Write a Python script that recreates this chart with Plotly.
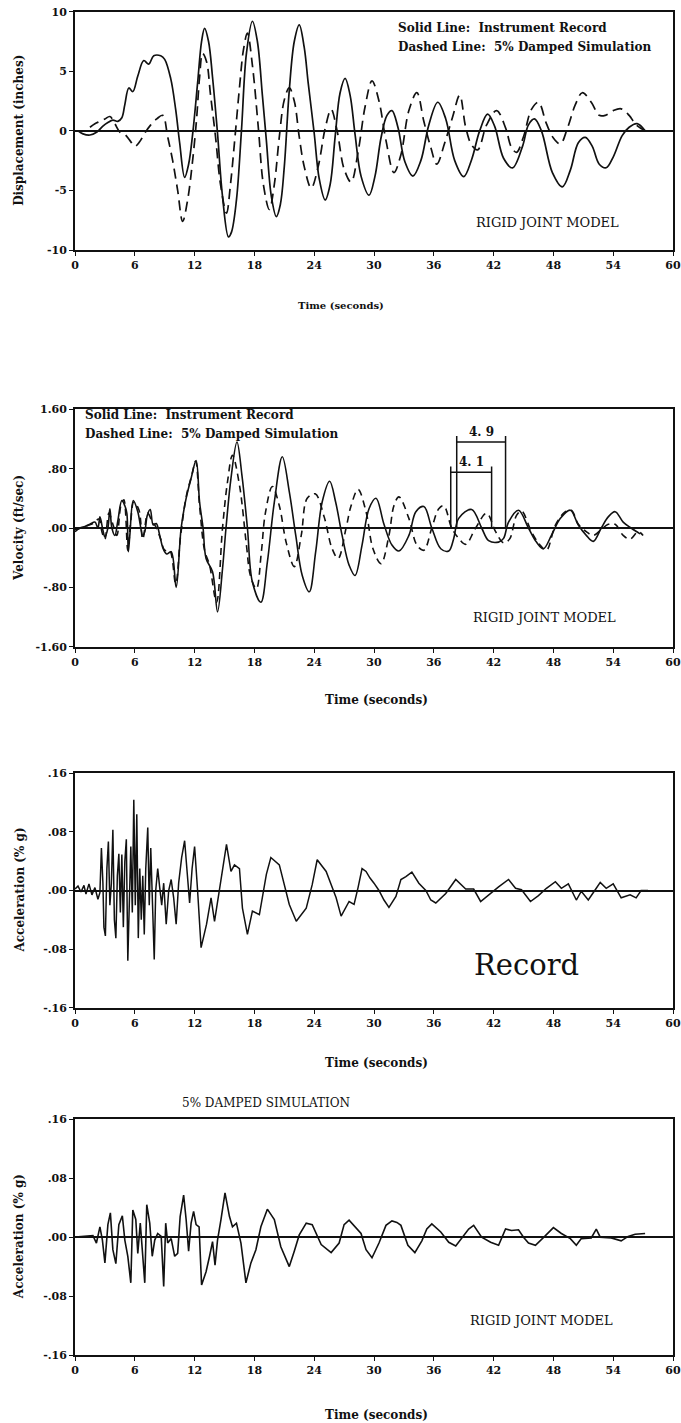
import plotly.graph_objects as go

# ---------------- data ----------------
time_ticks = [0, 6, 12, 18, 24, 30, 36, 42, 48, 54, 60]

disp_rec_t = [0.3, 0.8, 1.5, 2.2, 2.8, 3.3, 3.8, 4.3, 4.7, 5.0, 5.4, 5.8, 6.3, 6.9, 7.4, 7.9, 8.6, 9.0, 9.6, 10.1,
              10.5, 11.0, 11.4, 11.8, 12.3, 12.7, 13.0, 13.4, 13.8, 14.3, 14.8, 15.4, 15.7, 16.2, 16.7, 17.2, 17.8,
              18.3, 18.8, 19.2, 19.7, 20.2, 20.6, 21.0, 21.5, 22.0, 22.5, 23.0, 23.4, 24.0, 24.5, 25.1, 25.6, 26.1,
              26.6, 27.1, 27.6, 28.1, 28.7, 29.5, 30.1, 30.7, 31.3, 31.8, 32.4, 33.1, 33.9, 34.7, 35.5, 36.4, 37.2,
              38.1, 39.0, 39.8, 40.6, 41.4, 42.1, 43.0, 43.9, 44.9, 45.5, 46.1, 46.8, 47.9, 48.9, 49.7, 50.5, 51.2,
              51.9, 52.6, 53.3, 54.0, 54.9, 55.6, 56.4, 57.2]
disp_rec = [0.0, -0.25, -0.35, -0.1, 0.4, 0.7, 0.9, 0.8, 1.1, 2.2, 3.6, 3.3, 4.6, 5.9, 5.6, 6.3, 6.3, 6.0, 4.4, 1.8,
            -1.0, -3.9, -2.8, -0.3, 4.0, 7.5, 8.6, 7.5, 4.5, -0.2, -5.5, -8.9, -8.5, -5.8, 0.0, 6.5, 9.2,
            7.5, 3.0, -0.8, -5.5, -7.2, -6.2, -3.0, 3.4, 7.5, 8.9, 7.0, 4.0, -0.2, -4.0, -5.8, -4.5, -0.5,
            3.2, 4.4, 3.0, -0.3, -3.8, -5.4, -3.8, -0.6, 1.3, 1.7, 0.3, -2.6, -3.8, -2.5, 0.5, 2.4, 1.0,
            -2.5, -3.85, -2.4, 0.0, 1.4, 0.4, -2.3, -3.1, -1.3, 0.5, 1.0, 0.0, -3.5, -4.7, -3.3, -1.0, -0.55,
            -1.3, -2.8, -3.1, -2.2, -0.4, 0.3, 0.6, 0.0]

disp_sim_t = [1.5, 2.0, 2.5, 3.0, 3.5, 4.0, 4.5, 5.0, 5.5, 6.0, 6.5, 7.0, 7.6, 8.2, 8.8, 9.3, 9.8, 10.3, 10.8, 11.3,
              11.8, 12.2, 12.5, 12.8, 13.2, 13.6, 14.1, 14.6, 15.2, 15.6, 16.0, 16.5, 16.9, 17.3, 17.8, 18.4, 18.9,
              19.5, 20.0, 20.5, 21.0, 21.5, 22.0, 22.5, 23.0, 23.7, 24.4, 25.1, 25.7, 26.3, 27.0, 27.7, 28.4, 29.1,
              29.8, 30.5, 31.2, 32.0, 32.7, 33.5, 34.3, 35.0, 35.7, 36.3, 37.1, 37.9, 38.6, 39.2, 39.8, 40.4, 41.3,
              42.3, 43.2, 43.8, 44.3, 45.0, 45.8, 46.5, 47.3, 48.0, 48.7, 49.4, 50.2, 50.9, 51.8, 52.6, 53.2, 54.0,
              54.8, 55.6, 56.3, 57.2]
disp_sim = [0.3, 0.6, 0.8, 1.0, 1.2, 0.6, -0.1, -0.3, -0.8, -1.3, -0.9, -0.2, 0.5, 1.0, 1.3, -0.5, -2.5, -5.0, -7.6, -5.8,
            -2.5, 1.0, 4.5, 6.5, 5.8, 3.0, -0.5, -4.5, -6.9, -4.5, -1.0, 3.6, 6.8, 8.2, 5.5, 0.2, -4.5,
            -6.6, -4.5, -0.5, 2.6, 3.6, 2.5, -0.5, -3.0, -4.8, -3.0, 0.2, 1.8, 0.0, -3.2, -4.3, -1.8, 2.0,
            4.2, 2.5, -0.8, -3.5, -2.0, 1.7, 3.2, 0.8, -1.4, -2.8, -1.0, 1.2, 3.0, 0.3, -1.2, -1.6, 0.5,
            1.7, 0.25, -1.4, -1.8, -0.5, 1.8, 2.4, 0.6, -0.6, -1.1, 0.2, 2.2, 3.2, 2.4, 1.3, 1.3, 1.7,
            1.85, 1.3, 0.5, 0.0]

vel_rec_t = [0.0, 0.5, 1.0, 1.5, 2.0, 2.3, 2.5, 2.8, 3.0, 3.3, 3.5, 3.7, 4.0, 4.3, 4.7, 5.0, 5.2, 5.35, 5.5, 5.85,
             6.3, 6.8, 7.0, 7.25, 7.55, 7.85, 8.15, 8.5, 8.85, 9.2, 9.65, 10.15, 10.65, 11.15, 11.65, 12.15, 12.5,
             12.85, 13.15, 13.8, 14.3, 14.8, 15.15, 15.65, 16.25, 16.75, 17.3, 17.8, 18.65, 19.3, 20.0, 20.8, 21.5,
             22.15, 22.8, 23.5, 24.15, 24.8, 25.55, 26.15, 26.8, 27.5, 28.1, 28.8, 29.5, 30.2, 31.0, 31.8, 32.5,
             33.5, 34.2, 35.0, 35.8, 36.7, 37.5, 38.0, 38.5, 39.8, 40.8, 41.5, 42.5, 43.0, 43.5, 44.5, 45.5, 46.3,
             47.0, 47.8, 48.7, 49.7, 50.5, 51.3, 52.0, 52.8, 53.5, 54.2, 55.0, 55.8, 56.7]
vel_rec = [-0.05, 0.0, 0.02, 0.05, 0.08, 0.0, 0.15, -0.03, -0.12, 0.0, 0.26, 0.0, -0.1, 0.1, 0.37, 0.3, 0.2, -0.32, -0.1, 0.37,
           0.22, -0.1, -0.05, 0.17, 0.25, 0.04, 0.06, -0.1, -0.28, -0.35, -0.32, -0.8, 0.0, 0.4, 0.67, 0.91, 0.35,
           0.0, -0.41, -0.59, -1.13, -0.55, 0.0, 0.67, 1.16, 0.71, 0.0, -0.73, -1.0, -0.46, 0.35, 0.96, 0.49,
           -0.1, -0.64, -0.86, -0.32, 0.35, 0.63, 0.35, -0.1, -0.5, -0.64, -0.23, 0.26, 0.4, 0.05, -0.23, -0.31,
           -0.1, 0.22, 0.29, 0.0, -0.28, -0.31, -0.14, 0.13, 0.25, 0.0, -0.17, -0.19, -0.14, 0.08, 0.24, 0.0, -0.19,
           -0.28, -0.1, 0.13, 0.24, 0.04, -0.1, -0.18, 0.0, 0.15, 0.22, 0.08, 0.0, -0.08]

vel_sim_t = [0.0, 0.6, 1.2, 1.8, 2.4, 2.7, 3.0, 3.4, 3.8, 4.2, 4.6, 4.9, 5.3, 5.6, 5.9, 6.4, 6.8, 7.3, 7.7, 8.1,
             8.6, 9.0, 9.5, 10.1, 10.6, 11.2, 11.7, 12.1, 12.5, 13.0, 13.5, 14.2, 14.8, 15.3, 15.8, 16.5, 17.2,
             17.6, 18.2, 18.7, 19.1, 19.8, 20.5, 21.2, 22.0, 22.7, 23.3, 24.1, 25.0, 25.8, 26.4, 27.2, 27.7, 28.4,
             29.2, 29.9, 30.7, 31.5, 32.0, 32.5, 33.5, 34.3, 35.0, 35.8, 36.5, 37.0, 37.8, 38.5, 39.2, 40.2, 41.3,
             42.2, 43.0, 43.6, 44.3, 44.8, 45.8, 46.6, 47.3, 48.2, 49.2, 49.8, 50.5, 51.3, 52.0, 52.8, 53.5, 54.2,
             55.0, 55.7, 56.5, 57.0]
vel_sim = [-0.02, 0.0, 0.03, 0.06, 0.12, -0.05, -0.15, 0.2, 0.05, -0.1, 0.3, 0.38, -0.3, 0.1, 0.35, 0.25, -0.15, 0.2, 0.1, 0.02,
           -0.15, -0.3, -0.3, -0.75, -0.1, 0.45, 0.7, 0.9, 0.3, -0.3, -0.5, -1.0, 0.0, 0.62, 0.98, 0.58, -0.23,
           -0.64, -0.82, -0.32, 0.2, 0.56, 0.3, -0.2, -0.52, -0.1, 0.4, 0.46, 0.15, -0.28, -0.41, 0.0, 0.3, 0.52,
           0.22, -0.28, -0.48, -0.1, 0.3, 0.42, 0.13, -0.23, -0.3, 0.0, 0.26, 0.3, 0.0, -0.14, -0.22, 0.0, 0.2,
           -0.05, -0.2, -0.15, 0.17, 0.23, -0.05, -0.22, -0.3, 0.04, 0.22, 0.24, 0.05, -0.05, -0.1, -0.02, 0.05, 0.05,
           -0.1, -0.15, -0.05, -0.1]

# period brackets on the velocity plot: start time, period (s), height (ft/sec)
bracket_start = [37.7, 38.3]
bracket_period = [4.1, 4.9]
bracket_height = [0.75, 1.16]

acc_rec_t = [0.0, 0.3, 0.6, 0.9, 1.1, 1.4, 1.7, 2.0, 2.3, 2.5, 2.65, 2.8, 2.9, 3.05, 3.2, 3.35, 3.5, 3.65, 3.8, 3.95,
             4.1, 4.25, 4.4, 4.55, 4.7, 4.85, 5.0, 5.15, 5.3, 5.45, 5.6, 5.75, 5.9, 6.05, 6.2, 6.35, 6.5, 6.65, 6.8,
             6.95, 7.1, 7.3, 7.45, 7.6, 7.75, 7.95, 8.1, 8.3, 8.5, 8.7, 8.9, 9.15, 9.4, 9.65, 9.9, 10.15, 10.4, 10.7,
             11.0, 11.25, 11.5, 11.75, 12.0, 12.3, 12.65, 13.2, 13.65, 14.0, 14.5, 15.2, 15.65, 16.0, 16.5, 16.8,
             17.3, 17.8, 18.5, 19.2, 19.65, 20.5, 21.5, 22.2, 23.2, 23.8, 24.3, 25.2, 26.2, 26.7, 27.5, 28.0, 28.4,
             28.8, 29.2, 29.6, 30.0, 30.5, 31.0, 31.5, 32.2, 32.7, 33.2, 33.8, 34.5, 35.2, 35.7, 36.2, 37.2, 38.2,
             39.2, 40.0, 40.7, 41.5, 42.5, 43.5, 44.2, 44.8, 45.7, 46.5, 47.3, 48.2, 48.8, 49.5, 50.3, 50.8, 51.5,
             52.2, 52.7, 53.3, 54.0, 54.8, 55.7, 56.3, 56.8, 57.5]
acc_rec = [0.002, 0.006, -0.002, 0.007, -0.005, 0.009, -0.006, 0.004, -0.012, -0.003, 0.058, 0.01, -0.05, -0.062, 0.03,
           0.067, -0.02, 0.01, 0.083, -0.04, -0.065, 0.02, 0.05, -0.03, 0.049, -0.05, 0.04, 0.07, -0.096, -0.02, 0.06,
           -0.03, 0.124, -0.02, 0.104, -0.065, 0.03, -0.04, 0.02, -0.06, 0.03, 0.086, -0.02, 0.058, -0.01, -0.094,
           0.0, 0.03, 0.004, -0.02, 0.01, -0.046, 0.0, 0.015, -0.01, -0.046, 0.01, 0.045, 0.068, 0.03, -0.017, 0.03,
           0.06, 0.0, -0.078, -0.046, -0.01, -0.042, 0.0, 0.063, 0.026, 0.035, 0.03, -0.024, -0.06, -0.028, -0.033,
           0.022, 0.045, 0.035, -0.019, -0.042, -0.024, 0.008, 0.042, 0.026, -0.01, -0.035, -0.015, -0.019, 0.004,
           0.03, 0.026, 0.017, 0.01, 0.0, -0.013, -0.023, -0.008, 0.015, 0.019, 0.025, 0.01, 0.0, -0.013, -0.017,
           -0.004, 0.015, 0.002, 0.002, -0.015, -0.006, 0.005, 0.015, 0.003, 0.001, -0.015, -0.007, 0.003, 0.012,
           0.003, 0.009, -0.013, -0.001, -0.013, 0.001, 0.011, 0.003, 0.009, -0.01, -0.006, -0.01, 0.0, 0.0]

acc_sim_t = [0.0, 1.0, 1.8, 2.15, 2.5, 2.75, 3.0, 3.3, 3.55, 3.8, 4.1, 4.4, 4.75, 5.0, 5.3, 5.6, 5.8, 6.1, 6.3, 6.55,
             6.75, 7.0, 7.2, 7.5, 7.75, 8.0, 8.3, 8.65, 8.9, 9.1, 9.3, 9.65, 10.0, 10.3, 10.55, 10.9, 11.15, 11.4,
             11.65, 11.9, 12.15, 12.45, 12.7, 13.15, 13.5, 13.8, 14.05, 14.3, 14.65, 15.05, 15.5, 15.8, 16.2, 16.65,
             17.15, 17.65, 18.15, 18.65, 19.3, 20.0, 20.65, 21.5, 22.0, 22.5, 23.2, 23.8, 24.7, 25.7, 26.5, 27.0,
             27.5, 28.2, 28.7, 29.2, 29.8, 30.5, 31.2, 31.8, 32.3, 32.7, 33.4, 34.1, 34.8, 35.3, 35.8, 36.7, 37.5,
             38.2, 39.0, 39.5, 40.0, 40.8, 41.7, 42.5, 43.2, 43.8, 44.5, 45.0, 45.5, 46.2, 47.2, 48.0, 48.8, 49.7,
             50.3, 50.8, 51.8, 52.3, 52.7, 53.8, 54.8, 55.5, 56.2, 57.2]
acc_sim = [0.0, 0.001, 0.002, -0.008, 0.014, -0.004, -0.035, 0.017, 0.033, -0.017, -0.036, 0.017, 0.029, -0.004, -0.026,
           -0.062, 0.037, 0.024, -0.022, 0.019, -0.013, -0.062, 0.044, 0.019, -0.026, -0.004, 0.005, 0.001, -0.067,
           0.019, -0.008, -0.002, -0.026, -0.022, 0.028, 0.057, 0.024, -0.019, 0.019, 0.035, 0.017, 0.014, -0.065,
           -0.047, -0.026, -0.006, -0.038, -0.004, 0.024, 0.06, 0.028, 0.014, 0.019, -0.008, -0.062, -0.035, -0.017,
           0.014, 0.038, 0.024, -0.013, -0.04, -0.019, 0.003, 0.019, 0.017, -0.01, -0.021, -0.008, 0.017, 0.023,
           0.012, 0.005, -0.017, -0.028, -0.008, 0.016, 0.022, 0.02, 0.016, -0.011, -0.021, -0.005, 0.011, 0.018,
           0.007, -0.007, -0.012, 0.002, 0.011, 0.016, 0.0, -0.007, -0.011, 0.011, 0.009, 0.01, 0.0, -0.008, -0.011,
           0.002, 0.013, 0.005, -0.002, -0.011, -0.002, -0.001, 0.011, 0.0, -0.001, -0.005, 0.001, 0.004, 0.005]

disp_ticks = [10, 5, 0, -5, -10]
disp_ticktext = ["10", "5", "0", "-5", "-10"]
vel_ticks = [1.6, 0.8, 0.0, -0.8, -1.6]
vel_ticktext = ["1.60", ".80", ".00", "-.80", "-1.60"]
acc_ticks = [0.16, 0.08, 0.0, -0.08, -0.16]
acc_ticktext = [".16", ".08", ".00", "-.08", "-.16"]

# ---------------- figure ----------------
W, H = 681, 1423
SERIF = "DejaVu Serif"
BLACK = "#111111"

fig = go.Figure()

def add_line(t, v, n, dash=None, shape="linear", width=1.6):
    fig.add_trace(go.Scatter(
        x=t, y=v, mode="lines", xaxis=f"x{n}" if n > 1 else "x", yaxis=f"y{n}" if n > 1 else "y",
        line=dict(color=BLACK, width=width, dash=dash, shape=shape), showlegend=False, hoverinfo="skip"))

add_line(disp_rec_t, disp_rec, 1, shape="spline", width=1.7)
add_line(disp_sim_t, disp_sim, 1, dash="10px,6px", shape="spline", width=1.7)
add_line(vel_rec_t, vel_rec, 2, shape="spline", width=1.6)
add_line(vel_sim_t, vel_sim, 2, dash="7px,5px", shape="spline", width=1.6)
add_line(acc_rec_t, acc_rec, 3, width=1.5)
add_line(acc_sim_t, acc_sim, 4, width=1.6)

# panel placement in pixels: (top, bottom)
panels = [(11.7, 250.0), (409.3, 646.7), (773.3, 1007.7), (1119.3, 1355.0)]
x_left, x_right = 75, 673
yranges = [[-10, 10], [-1.6, 1.6], [-0.16, 0.16], [-0.16, 0.16]]
yticks = [(disp_ticks, disp_ticktext), (vel_ticks, vel_ticktext), (acc_ticks, acc_ticktext), (acc_ticks, acc_ticktext)]

tickfont = dict(family=SERIF, size=11, color=BLACK, weight="bold")
for i, (top, bot) in enumerate(panels):
    n = i + 1
    sfx = "" if n == 1 else str(n)
    fig.layout[f"xaxis{sfx}"] = dict(
        domain=[x_left / W, x_right / W], range=[0, 60], tickvals=time_ticks,
        ticktext=[str(t) for t in time_ticks], anchor=f"y{sfx}",
        showline=True, linecolor=BLACK, linewidth=1.8, mirror=True, ticks="outside", ticklen=4,
        tickcolor=BLACK, showgrid=False, zeroline=False, tickfont=tickfont, automargin=False, fixedrange=True)
    fig.layout[f"yaxis{sfx}"] = dict(
        domain=[1 - bot / H, 1 - top / H], range=yranges[i], tickvals=yticks[i][0], ticktext=yticks[i][1],
        anchor=f"x{sfx}", showline=True, linecolor=BLACK, linewidth=1.8, mirror=True, ticks="outside",
        ticklen=4, tickcolor=BLACK, showgrid=False, zeroline=True, zerolinecolor=BLACK, zerolinewidth=1.5,
        tickfont=tickfont, automargin=False, fixedrange=True)

ann = []
def paper_text(text, x_px, y_px, size, bold=True, angle=0, xanchor="center", family=SERIF):
    ann.append(dict(text=text, x=x_px / W, y=1 - y_px / H, xref="paper", yref="paper", showarrow=False,
                    xanchor=xanchor, yanchor="middle", textangle=angle,
                    font=dict(family=family, size=size, color=BLACK, weight="bold" if bold else "normal")))

# axis titles
time_label = [(341, 305, 10), (376, 700, 12), (376, 1063, 12), (376, 1415, 12)]
ylabels = ["Displacement (inches)", "Velocity (ft/sec)", "Acceleration (% g)", "Acceleration (% g)"]
for i, (top, bot) in enumerate(panels):
    tx, ty, ts = time_label[i]
    paper_text("Time (seconds)", tx, ty, ts)
    paper_text(ylabels[i], 19, (top + bot) / 2, 12, angle=-90)

# panel texts
paper_text("Solid Line:  Instrument Record", 396, 28, 12, bold=True, xanchor="left")
paper_text("Dashed Line:  5% Damped Simulation", 396, 47, 12, bold=True, xanchor="left")
paper_text("RIGID JOINT MODEL", 547, 223, 13, bold=False)
paper_text("Solid Line:  Instrument Record", 83, 415, 12, bold=True, xanchor="left")
paper_text("Dashed Line:  5% Damped Simulation", 83, 434, 12, bold=True, xanchor="left")
paper_text("RIGID JOINT MODEL", 544, 617, 13, bold=False)
paper_text("Record", 526, 965, 29, bold=False)
paper_text("5% DAMPED SIMULATION", 266, 1103, 12, bold=False)
paper_text("RIGID JOINT MODEL", 541, 1320, 13, bold=False)

# period brackets (velocity panel)
shapes = []
for s, p, h in zip(bracket_start, bracket_period, bracket_height):
    e = s + p
    for xv in (s, e):
        shapes.append(dict(type="line", xref="x2", yref="y2", x0=xv, x1=xv, y0=0, y1=h + 0.08,
                           line=dict(color=BLACK, width=1.5)))
    shapes.append(dict(type="line", xref="x2", yref="y2", x0=s, x1=e, y0=h, y1=h,
                       line=dict(color=BLACK, width=1.5)))
    ann.append(dict(text=f"{p:.1f}".replace(".", ". "), x=(s + e) / 2, y=h, xref="x2", yref="y2",
                    showarrow=False, yanchor="bottom", yshift=1,
                    font=dict(family=SERIF, size=12, color=BLACK, weight="bold")))

fig.update_layout(width=W, height=H, margin=dict(l=0, r=0, t=0, b=0), paper_bgcolor="white",
                  plot_bgcolor="white", annotations=ann, shapes=shapes, showlegend=False)

fig.write_html("out.html")
